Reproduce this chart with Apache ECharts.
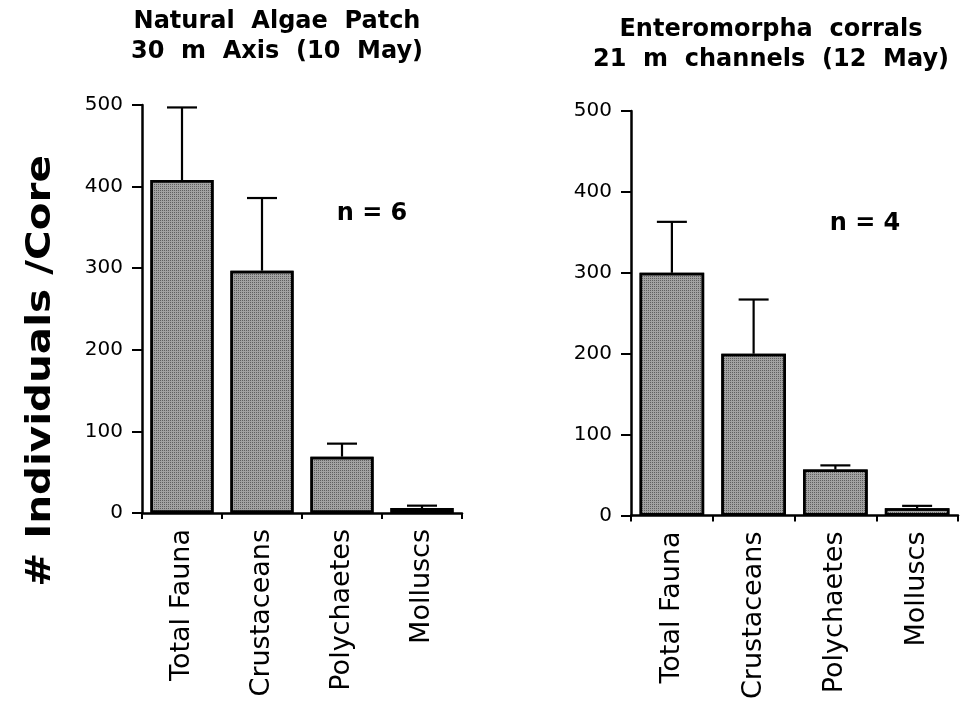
<!DOCTYPE html>
<html>
<head>
<meta charset="utf-8">
<script src="https://cdn.jsdelivr.net/npm/echarts@6/dist/echarts.min.js"></script>
<style>
  html, body { margin: 0; padding: 0; background: #fff; }
  #chart { width: 961px; height: 702px; }
</style>
</head>
<body>
<div id="chart"></div>
<script>
// Faunal groups shown on both panels
const categories = ['Total Fauna', 'Crustaceans', 'Polychaetes', 'Molluscs'];
const yTicks = [0, 100, 200, 300, 400, 500];

// Natural algae patch, 30 m axis (10 May): mean and standard error, n = 6
const algaeMeans = [408, 297, 69, 6];
const algaeSE = [89, 89, 16, 3];

// Enteromorpha corrals, 21 m channels (12 May): mean and standard error, n = 4
const corralMeans = [300, 200, 57, 9];
const corralSE = [63, 67, 5, 3];

const algaeTitle = ['Natural  Algae  Patch', '30  m  Axis  (10  May)'];
const corralTitle = ['Enteromorpha  corrals', '21  m  channels  (12  May)'];
const sampleSizes = ['n = 6', 'n = 4'];
const yAxisTitle = '# Individuals /Core';

const FONT = '"DejaVu Sans", "Liberation Sans", sans-serif';
const BAR_FILL = '#a2a2a2';

function xAxisFor(gridIndex, margin) {
  return {
    type: 'category',
    gridIndex: gridIndex,
    data: categories,
    boundaryGap: true,
    axisLine: { show: true, lineStyle: { color: '#000', width: 2.5 } },
    axisTick: { show: true, alignWithLabel: false, length: 6, lineStyle: { color: '#000', width: 2 } },
    axisLabel: {
      interval: 0, rotate: 90, margin: margin,
      color: '#000', fontFamily: FONT, fontSize: 27
    },
    splitLine: { show: false }
  };
}

function yAxisFor(gridIndex) {
  return {
    type: 'value',
    gridIndex: gridIndex,
    min: yTicks[0],
    max: yTicks[yTicks.length - 1],
    interval: yTicks[1] - yTicks[0],
    axisLine: { show: true, lineStyle: { color: '#000', width: 2.5 } },
    axisTick: { show: true, length: 10, lineStyle: { color: '#000', width: 2 } },
    axisLabel: { margin: 19, color: '#000', fontFamily: FONT, fontSize: 20 },
    splitLine: { show: false }
  };
}

function barSeries(index, values) {
  return {
    type: 'bar',
    xAxisIndex: index,
    yAxisIndex: index,
    data: values,
    barWidth: '79%',
    itemStyle: {
      color: BAR_FILL,
      borderColor: '#000',
      borderWidth: 2.5,
      decal: {
        symbol: 'rect',
        symbolSize: 1,
        color: 'rgba(40,40,40,0.55)',
        dashArrayX: [1, 1],
        dashArrayY: [1, 1],
        rotation: 0
      }
    },
    silent: true,
    z: 2
  };
}

// Upper standard-error whisker with a flat cap
function errorSeries(index, means, se) {
  return {
    type: 'custom',
    xAxisIndex: index,
    yAxisIndex: index,
    data: means.map((m, i) => [i, m, se[i]]),
    encode: { x: 0, y: 1 },
    z: 3,
    silent: true,
    renderItem: function (params, api) {
      const i = api.value(0);
      const mean = api.value(1);
      const err = api.value(2);
      const base = api.coord([i, mean]);
      const top = api.coord([i, mean + err]);
      const half = 15;
      const style = { stroke: '#000', lineWidth: 2.2 };
      return {
        type: 'group',
        children: [
          { type: 'line', shape: { x1: base[0], y1: base[1], x2: top[0], y2: top[1] }, style: style },
          { type: 'line', shape: { x1: top[0] - half, y1: top[1], x2: top[0] + half, y2: top[1] }, style: style }
        ]
      };
    }
  };
}

function textEl(text, x, y, size, extra) {
  return Object.assign({
    type: 'text',
    x: x, y: y,
    style: {
      text: text,
      fill: '#000',
      fontFamily: FONT,
      fontWeight: 'bold',
      fontSize: size,
      align: 'center',
      verticalAlign: 'middle'
    },
    silent: true
  }, extra || {});
}

const chart = echarts.init(document.getElementById('chart'), null, { renderer: 'canvas' });

chart.setOption({
  backgroundColor: '#fff',
  animation: false,
  grid: [
    { left: 142, top: 105, width: 320, height: 408, containLabel: false },
    { left: 631, top: 111, width: 327, height: 408.5, containLabel: false }
  ],
  xAxis: [xAxisFor(0, 16), xAxisFor(1, 16)],
  yAxis: [yAxisFor(0), yAxisFor(1)],
  series: [
    barSeries(0, algaeMeans),
    errorSeries(0, algaeMeans, algaeSE),
    barSeries(1, corralMeans),
    errorSeries(1, corralMeans, corralSE)
  ],
  graphic: [
    textEl(algaeTitle[0], 277, 22, 24),
    textEl(algaeTitle[1], 277, 52, 24),
    textEl(corralTitle[0], 771, 30, 24),
    textEl(corralTitle[1], 771, 60, 24),
    textEl(sampleSizes[0], 372, 214, 24),
    textEl(sampleSizes[1], 865, 224, 24),
    textEl(yAxisTitle, 41, 371, 34, { rotation: Math.PI / 2, scaleX: 1.19, scaleY: 1 })
  ]
});
</script>
</body>
</html>
